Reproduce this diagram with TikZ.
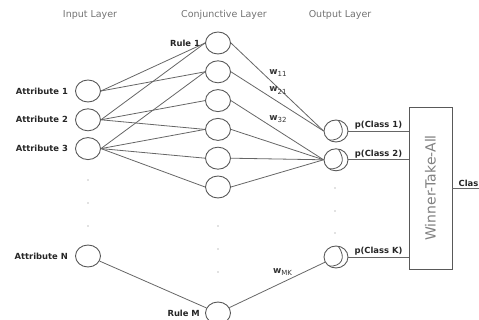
\documentclass[tikz,border=0pt]{standalone}
\usepackage{fontspec}
\setmainfont{DejaVu Sans}
\usetikzlibrary{shapes.geometric,positioning}
\newcommand\wt[1]{\textbf{w}\raisebox{-2.5pt}{\fontsize{7}{7}\selectfont #1}}

\begin{document}
\begin{tikzpicture}[x=1pt,y=-1pt,node distance=28.8pt,
                    every edge/.style={draw=black!60,line width=0.8pt}]
  \tikzstyle{unit}=[ellipse,draw=black!65,line width=0.9pt,minimum width=25pt,
                    minimum height=22pt,inner sep=0pt]
  \tikzstyle{outunit}=[unit,minimum width=24pt,
      path picture={\draw[black!65,line width=0.8pt]
        ([xshift=2pt]path picture bounding box.north)
        .. controls ([xshift=11pt,yshift=-1pt]path picture bounding box.center)
        and ([xshift=5pt,yshift=-10pt]path picture bounding box.center)
        .. ([xshift=-7pt,yshift=2pt]path picture bounding box.south);}]
  \tikzstyle{lbl}=[font=\fontsize{8.4}{9}\selectfont\bfseries,text=black!85,inner sep=1pt]
  \tikzstyle{head}=[font=\fontsize{9.5}{10}\selectfont,text=black!55]
  \tikzstyle{wlbl}=[font=\fontsize{9}{9}\selectfont,text=black!80,inner sep=1pt]
  \tikzstyle{link}=[draw=black!60,line width=0.8pt]

  \useasboundingbox (0,0) rectangle (479,320);

  % layer titles
  \node[head] (hin)  at (90,15)  {Input Layer};
  \node[head] (hcon) at (224,15) {Conjunctive Layer};
  \node[head] (hout) at (340,15) {Output Layer};

  % input layer
  \node[unit] (a1) at (88,91) {};
  \node[unit] (a2) [below of=a1] {};
  \node[unit] (a3) [below of=a2] {};
  \node[unit] (aN) at (88,256) {};
  \node[lbl] (la1) [left=6pt of a1] {Attribute 1};
  \node[lbl] (la2) [left=6pt of a2] {Attribute 2};
  \node[lbl] (la3) [left=6pt of a3] {Attribute 3};
  \node[lbl] (laN) [left=6pt of aN] {Attribute N};

  % conjunctive layer
  \node[unit] (r1) at (218,43) {};
  \node[unit] (r2) [below of=r1] {};
  \node[unit] (r3) [below of=r2] {};
  \node[unit] (r4) [below of=r3] {};
  \node[unit] (r5) [below of=r4] {};
  \node[unit] (r6) [below of=r5] {};
  \node[unit] (rM) at (218,313) {};
  \node[lbl] (lr1) [left=4pt of r1] {Rule 1};
  \node[lbl] (lrM) [left=4pt of rM] {Rule M};

  % output layer
  \node[outunit] (c1) at (336,131) {};
  \node[outunit] (c2) [below of=c1] {};
  \node[outunit] (cK) at (336,257) {};

  \node[draw=black!65,line width=0.9pt,minimum width=43pt,minimum height=162pt] (wta) at (430.5,188) {};
  \node[rotate=90,font=\fontsize{14}{14}\selectfont,text=black!50] (wtat) at (wta) {Winner-Take-All};

  % dots
  \foreach \y in {180,203,226} \fill[black!50] (88,\y) circle (0.7pt);
  \foreach \y in {226,249,272} \fill[black!50] (218,\y) circle (0.7pt);
  \foreach \y in {188,211,233} \fill[black!50] (335,\y) circle (0.7pt);

  \path (a1.east) edge (r1.west)
        (a1.east) edge (r2.west)
        (a2.east) edge (r1.west)
        (a2.east) edge (r3.west)
        (a2.east) edge (r4.west)
        (a3.east) edge (r2.west)
        (a3.east) edge (r4.west)
        (a3.east) edge (r5.west)
        (a3.east) edge (r6.west)
        (aN) edge (rM);

  \path (r1.east) edge node[wlbl,pos=0.4,above right] (w11) {\wt{11}} (c1.west)
        (r2.east) edge node[wlbl,pos=0.4,above right] (w21) {\wt{21}} (c1.west)
        (r3.east) edge node[wlbl,pos=0.4,above right] (w32) {\wt{32}} (c2.west)
        (r4.east) edge (c2.west)
        (r5.east) edge (c2.west)
        (r6.east) edge (c2.west)
        (rM) edge node[wlbl,pos=0.67,above left] (wMK) {\wt{MK}} (cK);

  \draw[link] (c1.east) -- node[lbl,above] (p1) {p(Class 1)} (c1 -| wta.west);
  \draw[link] (c2.east) -- node[lbl,above] (p2) {p(Class 2)} (c2 -| wta.west);
  \draw[link] (cK.east) -- node[lbl,above] (pK) {p(Class K)} (cK -| wta.west);

  \coordinate (cls) at (479,188);
  \draw[link] (wta.east) -- (cls);
  \node[lbl] (clab) [above right=0pt and 5pt of wta.east] {Clas};
\end{tikzpicture}
\end{document}
